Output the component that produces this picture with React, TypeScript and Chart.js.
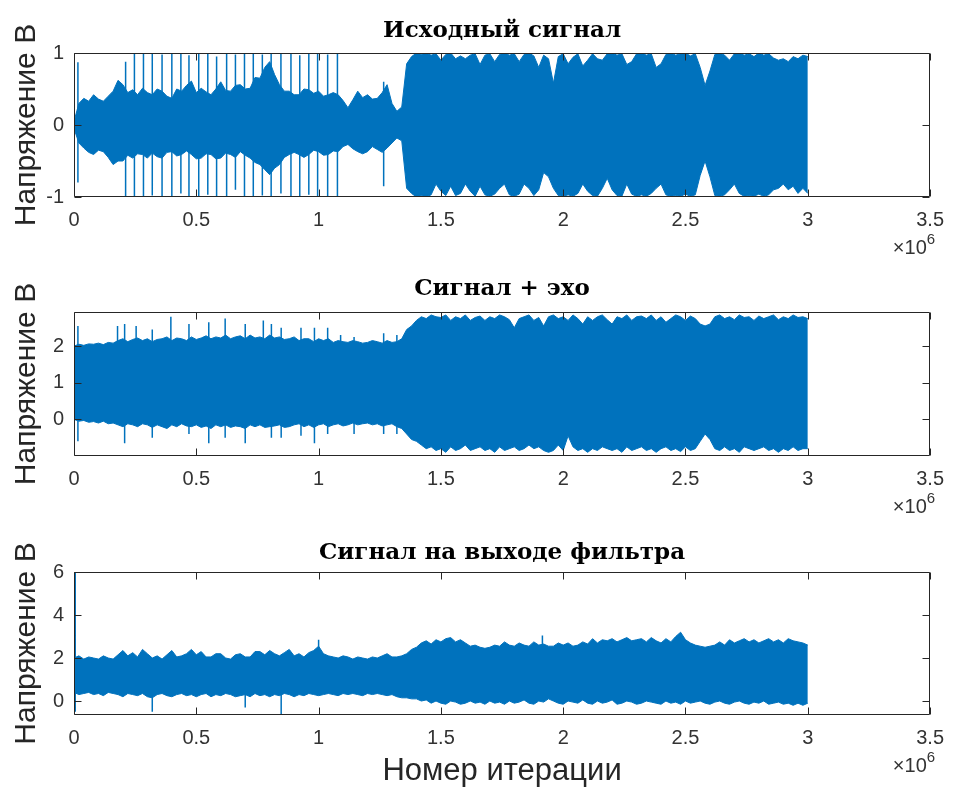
import React, { useEffect, useRef } from "react";
import { Chart, registerables } from "chart.js";

Chart.register(...registerables);

// ---------------- data ----------------
const panelTitles = ["Исходный сигнал", "Сигнал + эхо", "Сигнал на выходе фильтра"];
const yAxisLabel = "Напряжение В";
const xAxisLabel = "Номер итерации";
const xTickValues = [0, 0.5, 1, 1.5, 2, 2.5, 3, 3.5]; // ×10^6
const yTicks1 = [-1, 0, 1];
const yTicks2 = [0, 1, 2];
const yTicks3 = [0, 2, 4, 6];

// sample positions (millions of iterations)
const iterM = [
  0, 0.02, 0.04, 0.06, 0.08, 0.1, 0.12, 0.14, 0.16, 0.18,
  0.2, 0.22, 0.24, 0.26, 0.28, 0.3, 0.32, 0.34, 0.36, 0.38,
  0.4, 0.42, 0.44, 0.46, 0.48, 0.5, 0.52, 0.54, 0.56, 0.58,
  0.6, 0.62, 0.64, 0.66, 0.68, 0.7, 0.72, 0.74, 0.76, 0.78,
  0.8, 0.82, 0.84, 0.86, 0.88, 0.9, 0.92, 0.94, 0.96, 0.98,
  1.0, 1.02, 1.04, 1.06, 1.08, 1.1, 1.12, 1.14, 1.16, 1.18,
  1.2, 1.22, 1.24, 1.26, 1.28, 1.3, 1.32, 1.34, 1.36, 1.38,
  1.4, 1.42, 1.44, 1.46, 1.48, 1.5, 1.52, 1.54, 1.56, 1.58,
  1.6, 1.62, 1.64, 1.66, 1.68, 1.7, 1.72, 1.74, 1.76, 1.78,
  1.8, 1.82, 1.84, 1.86, 1.88, 1.9, 1.92, 1.94, 1.96, 1.98,
  2.0, 2.02, 2.04, 2.06, 2.08, 2.1, 2.12, 2.14, 2.16, 2.18,
  2.2, 2.22, 2.24, 2.26, 2.28, 2.3, 2.32, 2.34, 2.36, 2.38,
  2.4, 2.42, 2.44, 2.46, 2.48, 2.5, 2.52, 2.54, 2.56, 2.58,
  2.6, 2.62, 2.64, 2.66, 2.68, 2.7, 2.72, 2.74, 2.76, 2.78,
  2.8, 2.82, 2.84, 2.86, 2.88, 2.9, 2.92, 2.94, 2.96, 2.98,
  3.0,
];

// Panel 1: original signal envelope
const sig1Upper = [
  0.05, 0.3, 0.37, 0.33, 0.42, 0.36, 0.33, 0.4, 0.47, 0.62,
  0.56, 0.45, 0.49, 0.42, 0.51, 0.45, 0.42, 0.5, 0.47, 0.4,
  0.37, 0.5, 0.47, 0.55, 0.61, 0.45, 0.51, 0.46, 0.42, 0.5,
  0.6, 0.48, 0.47, 0.55, 0.56, 0.5, 0.51, 0.66, 0.65, 0.8,
  0.88, 0.7, 0.56, 0.47, 0.47, 0.42, 0.42, 0.5, 0.49, 0.44,
  0.47, 0.4, 0.42, 0.45, 0.42, 0.34, 0.24, 0.35, 0.47, 0.38,
  0.42, 0.36, 0.37, 0.45, 0.56, 0.3, 0.19, 0.25, 0.85, 0.95,
  1.0, 0.98, 1.0, 0.97, 0.99, 0.9, 0.98, 1.0, 0.92, 0.96,
  0.92, 0.97, 0.99, 0.84, 0.97, 0.99, 0.88, 0.98, 1.0, 0.97,
  0.99, 0.88, 0.98, 1.0, 0.96, 0.8, 0.97, 0.92, 0.58, 0.95,
  0.99, 0.85, 0.94, 0.99, 0.82, 0.9, 0.99, 0.92, 0.9, 0.99,
  1.0, 0.97, 0.99, 0.84, 0.88, 0.99, 1.0, 0.97, 0.99, 0.8,
  0.85, 0.98, 1.0, 0.97, 0.99, 1.0, 0.96, 0.99, 0.8, 0.55,
  0.75, 0.98, 1.0, 0.97, 0.9, 0.99, 1.0, 0.97, 0.99, 0.95,
  1.0, 0.97, 0.99, 0.93, 0.9, 0.92, 0.88, 0.95, 0.92, 0.97,
  0.95,
];
const sig1Lower = [
  -0.05, -0.25, -0.32, -0.38, -0.41, -0.35, -0.37, -0.45, -0.55, -0.5,
  -0.5, -0.42, -0.46, -0.4, -0.41, -0.46, -0.39, -0.44, -0.46, -0.38,
  -0.37, -0.43, -0.41, -0.36, -0.41, -0.47, -0.46, -0.4, -0.41, -0.47,
  -0.46, -0.39, -0.41, -0.45, -0.37, -0.42, -0.46, -0.52, -0.55, -0.62,
  -0.69, -0.6, -0.55, -0.45, -0.41, -0.38, -0.41, -0.45, -0.41, -0.35,
  -0.37, -0.42, -0.41, -0.36, -0.37, -0.3, -0.27, -0.33, -0.37, -0.4,
  -0.37, -0.3, -0.34, -0.38, -0.32, -0.25, -0.18, -0.22, -0.88, -0.95,
  -1.0, -0.98, -1.0, -0.97, -0.82, -0.92, -0.98, -0.85, -0.98, -0.95,
  -0.82, -0.92, -0.99, -0.85, -0.97, -0.99, -0.96, -0.88, -0.82, -0.97,
  -0.99, -0.96, -0.82, -0.88, -0.98, -0.9, -0.66, -0.72, -0.88, -0.98,
  -0.99, -0.97, -0.99, -0.95, -0.82, -0.92, -0.98, -0.99, -0.88, -0.74,
  -0.9, -0.98, -0.99, -0.82, -0.96, -0.99, -0.97, -0.99, -0.95, -0.88,
  -0.82, -0.97, -0.99, -0.98, -0.99, -0.96, -0.99, -0.97, -0.7, -0.5,
  -0.72, -0.98, -0.99, -0.97, -0.9, -0.82, -0.95, -0.99, -0.98, -0.99,
  -0.96, -0.99, -0.97, -0.9, -0.88, -0.82, -0.9, -0.85, -0.95, -0.88,
  -0.95,
];
const sig1SpikeX = [
  0.016, 0.211, 0.247, 0.284, 0.32, 0.36, 0.4, 0.437, 0.47, 0.51, 0.547, 0.583, 0.624, 0.66, 0.697, 0.733, 0.77,
  0.806, 0.846, 0.887, 0.923, 0.96, 0.996, 1.037, 1.077, 1.266,
];
const sig1SpikeHi = [
  0.87, 0.88, 1.0, 1.0, 1.0, 0.98, 1.0, 1.0, 0.97, 1.0, 1.0, 0.95, 1.0, 0.98, 1.0, 1.0, 0.98, 1.0, 1.0, 1.0, 0.97,
  1.0, 1.0, 0.98, 1.0, 0.6,
];
const sig1SpikeLo = [
  -0.8, -1.0, -1.0, -1.0, -0.98, -1.0, -1.0, -0.95, -1.0, -1.0, -0.97, -1.0, -1.0, -0.9, -1.0, -1.0, -0.98, -1.0,
  -0.95, -1.0, -1.0, -0.97, -1.0, -1.0, -1.0, -0.85,
];

// Panel 2: signal + echo
const sig2Upper = [
  2.0, 2.05, 2.02, 2.06, 2.05, 2.08, 2.04, 2.1, 2.08, 2.15,
  2.2, 2.12, 2.18, 2.22, 2.15, 2.2, 2.12, 2.18, 2.2, 2.25,
  2.15, 2.22, 2.2, 2.15, 2.25, 2.18, 2.22, 2.28, 2.2, 2.25,
  2.22, 2.3, 2.2, 2.25, 2.28, 2.2, 2.3, 2.22, 2.25, 2.2,
  2.3, 2.22, 2.25, 2.18, 2.2, 2.25, 2.15, 2.2, 2.2, 2.12,
  2.2, 2.15, 2.2, 2.1, 2.15, 2.12, 2.1, 2.15, 2.12, 2.08,
  2.1, 2.15, 2.12, 2.08, 2.15, 2.1, 2.12, 2.2, 2.45, 2.55,
  2.7, 2.8, 2.75, 2.85, 2.8, 2.78, 2.85, 2.7, 2.8, 2.75,
  2.85, 2.7, 2.78, 2.82, 2.7, 2.8, 2.75, 2.85, 2.8, 2.72,
  2.5, 2.75, 2.8, 2.85, 2.7, 2.78, 2.55, 2.8, 2.85, 2.75,
  2.8, 2.7, 2.85, 2.75, 2.6, 2.8, 2.7, 2.8, 2.85, 2.72,
  2.6, 2.8, 2.75, 2.85, 2.7, 2.8, 2.82, 2.75, 2.85, 2.7,
  2.8, 2.65, 2.75, 2.85, 2.8, 2.7, 2.82, 2.75, 2.6, 2.55,
  2.6, 2.8, 2.85, 2.75, 2.8, 2.72, 2.85, 2.78, 2.8, 2.7,
  2.82, 2.75, 2.8, 2.85, 2.72, 2.8, 2.75, 2.85, 2.78, 2.8,
  2.75,
];
const sig2Lower = [
  0.0, -0.05, -0.03, -0.08, -0.06, -0.1, -0.05, -0.12, -0.1, -0.15,
  -0.2, -0.12, -0.15, -0.2, -0.12, -0.15, -0.22, -0.15, -0.2, -0.25,
  -0.15, -0.2, -0.12, -0.18, -0.2, -0.15, -0.22, -0.18, -0.25, -0.15,
  -0.2, -0.15, -0.22, -0.18, -0.2, -0.25, -0.15, -0.2, -0.15, -0.22,
  -0.2, -0.18, -0.15, -0.22, -0.2, -0.15, -0.12, -0.2, -0.15, -0.22,
  -0.15, -0.12, -0.2, -0.15, -0.12, -0.18, -0.15, -0.1, -0.15, -0.12,
  -0.1, -0.15, -0.12, -0.18, -0.15, -0.12, -0.2, -0.25, -0.4, -0.55,
  -0.6, -0.7, -0.8, -0.75, -0.85, -0.8, -0.9, -0.75, -0.85, -0.8,
  -0.7, -0.85, -0.8, -0.75, -0.85, -0.8, -0.9, -0.75, -0.85, -0.8,
  -0.75, -0.85, -0.8, -0.7, -0.8, -0.75, -0.85, -0.9, -0.85, -0.7,
  -0.85, -0.45, -0.75, -0.85, -0.8, -0.9, -0.8, -0.85, -0.75, -0.8,
  -0.85, -0.8, -0.9, -0.75, -0.85, -0.8, -0.75, -0.85, -0.8, -0.9,
  -0.8, -0.75, -0.85, -0.8, -0.88, -0.75, -0.85, -0.8, -0.6, -0.4,
  -0.55, -0.8, -0.85, -0.75, -0.85, -0.8, -0.9, -0.75, -0.8, -0.85,
  -0.8, -0.75, -0.85, -0.8, -0.9, -0.8, -0.85, -0.75, -0.85, -0.8,
  -0.8,
];
const sig2SpikeX = [
  0.016, 0.178, 0.207, 0.254, 0.32, 0.396, 0.47, 0.551, 0.618, 0.7, 0.774, 0.807, 0.847, 0.928, 0.983, 1.037,
  1.09, 1.145, 1.266, 1.32,
];
const sig2SpikeHi = [
  2.55, 2.55, 2.6, 2.55, 2.45, 2.8, 2.6, 2.65, 2.75, 2.6, 2.7, 2.6, 2.5, 2.5, 2.5, 2.5, 2.3, 2.25, 2.35, 2.3,
];
const sig2SpikeLo = [
  -0.6, 1.0, -0.65, 1.0, -0.5, 1.0, -0.4, -0.65, -0.5, -0.65, 1.0, -0.5, -0.5, -0.45, -0.65, -0.4, 1.0, -0.4, -0.4,
  -0.4,
];

// Panel 3: filter output
const sig3Upper = [
  2.0, 2.1, 1.95, 2.05, 2.0, 1.95, 2.1, 2.0, 1.95, 2.15,
  2.35, 2.1, 2.25, 2.05, 2.4, 2.2, 2.0, 2.1, 1.95, 2.15,
  2.35, 2.05, 2.1, 2.2, 2.4, 2.15, 2.3, 2.05, 2.05, 2.2,
  2.2, 2.0, 1.95, 2.15, 2.2, 2.05, 2.05, 2.3, 2.3, 2.15,
  2.35, 2.2, 2.1, 2.25, 2.4, 2.1, 2.2, 2.05, 2.25, 2.35,
  2.55, 2.2, 2.1, 2.05, 2.0, 2.1, 2.05, 1.95, 2.05, 2.0,
  1.95, 2.05, 2.0, 2.1, 2.2, 2.05, 2.05, 2.1, 2.2, 2.4,
  2.5, 2.7, 2.8, 2.65, 2.85, 2.75, 2.9, 2.95, 2.75, 2.85,
  2.7, 2.55, 2.6, 2.5, 2.45, 2.5, 2.6, 2.55, 2.75, 2.6,
  2.55, 2.7, 2.6, 2.55, 2.75, 2.6, 2.65, 2.55, 2.55, 2.7,
  2.6, 2.7, 2.55, 2.6, 2.75, 2.65, 2.9, 2.7, 2.85, 2.8,
  2.9, 2.75, 2.85, 2.95, 2.8, 2.85, 2.9, 2.75, 2.95, 2.8,
  2.7, 2.9, 2.75, 3.0, 3.2, 2.85, 2.7, 2.6, 2.55, 2.5,
  2.55, 2.6, 2.75, 2.6, 2.85, 2.7, 2.8, 2.9, 2.75, 2.85,
  2.7, 2.8, 2.9, 2.75, 2.85, 2.7, 2.9, 2.8, 2.75, 2.7,
  2.6,
];
const sig3Lower = [
  0.4, 0.3, 0.35, 0.4, 0.3, 0.35, 0.25, 0.4, 0.35, 0.3,
  0.2, 0.35, 0.3, 0.25, 0.35, 0.2, 0.15, 0.3, 0.35, 0.25,
  0.2, 0.3, 0.35, 0.25, 0.3, 0.2, 0.3, 0.35, 0.2, 0.3,
  0.25, 0.35, 0.3, 0.2, 0.25, 0.3, 0.2, 0.35, 0.25, 0.3,
  0.2, 0.3, 0.25, 0.35, 0.3, 0.2, 0.3, 0.25, 0.35, 0.3,
  0.25, 0.3, 0.35, 0.3, 0.25, 0.35, 0.3, 0.35, 0.3, 0.25,
  0.35, 0.3, 0.35, 0.3, 0.25, 0.3, 0.2, 0.15, 0.15, 0.1,
  0.1, 0.0, 0.05, -0.1, 0.0, -0.1, -0.15, 0.0, -0.05, -0.15,
  -0.1, 0.0, -0.1, -0.05, -0.15, 0.0, -0.1, -0.05, -0.15, 0.0,
  -0.1, -0.05, 0.05, -0.1, -0.15, 0.0, -0.05, 0.1, 0.0, -0.1,
  -0.15, 0.0, -0.05, -0.1, 0.05, -0.1, -0.15, 0.0, -0.1, -0.05,
  0.05, -0.15, -0.1, 0.0, -0.05, -0.15, -0.1, 0.0, -0.05, -0.1,
  -0.15, 0.0, -0.1, -0.05, -0.15, 0.0, -0.1, -0.05, 0.0, -0.1,
  -0.15, -0.05, 0.0, -0.1, -0.15, -0.05, 0.0, -0.1, -0.15, -0.05,
  -0.1, 0.0, -0.15, -0.1, -0.05, -0.15, -0.1, -0.2, -0.1, -0.2,
  -0.1,
];
const sig3SpikeX = [0.005, 0.32, 0.7, 0.847, 1.0, 1.915];
const sig3SpikeHi = [6.0, 1.2, 1.2, 1.2, 2.85, 3.05];
const sig3SpikeLo = [-0.5, -0.5, -0.3, -0.65, 1.2, 1.2];

// ---------------- styling / layout ----------------
const BLUE = "#0072BD";
const AXIS = "#262626";
const TICK_COLOR = "#333333";
const SANS = "'Liberation Sans', Arial, sans-serif";
const SERIF = "'DejaVu Serif', 'Liberation Serif', serif";
const PAGE_W = 955;
const PLOT_LEFT = 74;
const PLOT_RIGHT = 938;

type Panel = {
  title: string;
  top: number;
  height: number;
  plotTop: number;
  plotBottom: number;
  titleCenter: number;
  yMin: number;
  yMax: number;
  yTicks: number[];
  upper: number[];
  lower: number[];
  spikeX: number[];
  spikeHi: number[];
  spikeLo: number[];
  xTitle: boolean;
};

const panels: Panel[] = [
  {
    title: panelTitles[0], top: 0, height: 262, plotTop: 53, plotBottom: 197, titleCenter: 31,
    yMin: -1, yMax: 1, yTicks: yTicks1, upper: sig1Upper, lower: sig1Lower,
    spikeX: sig1SpikeX, spikeHi: sig1SpikeHi, spikeLo: sig1SpikeLo, xTitle: false,
  },
  {
    title: panelTitles[1], top: 262, height: 258, plotTop: 50, plotBottom: 194, titleCenter: 27,
    yMin: -1.0, yMax: 2.93, yTicks: yTicks2, upper: sig2Upper, lower: sig2Lower,
    spikeX: sig2SpikeX, spikeHi: sig2SpikeHi, spikeLo: sig2SpikeLo, xTitle: false,
  },
  {
    title: panelTitles[2], top: 520, height: 267, plotTop: 52, plotBottom: 195, titleCenter: 33,
    yMin: -0.65, yMax: 6, yTicks: yTicks3, upper: sig3Upper, lower: sig3Lower,
    spikeX: sig3SpikeX, spikeHi: sig3SpikeHi, spikeLo: sig3SpikeLo, xTitle: true,
  },
];

const matlabBox = {
  id: "matlabBox",
  afterDatasetsDraw(chart: any) {
    const { ctx, chartArea: a, scales } = chart;
    const L = Math.round(a.left) + 0.5;
    const R = Math.round(a.right) - 0.5;
    const T = Math.round(a.top) + 0.5;
    const B = Math.round(a.bottom) - 0.5;
    ctx.save();
    ctx.strokeStyle = AXIS;
    ctx.lineWidth = 1;
    ctx.beginPath();
    ctx.rect(L, T, R - L, B - T);
    const tl = 7;
    scales.x.ticks.forEach((t: any) => {
      const px = Math.round(scales.x.getPixelForValue(t.value)) + 0.5;
      ctx.moveTo(px, B);
      ctx.lineTo(px, B - tl);
      ctx.moveTo(px, T);
      ctx.lineTo(px, T + tl);
    });
    scales.y.ticks.forEach((t: any) => {
      const py = Math.round(scales.y.getPixelForValue(t.value)) + 0.5;
      ctx.moveTo(L, py);
      ctx.lineTo(L + tl, py);
      ctx.moveTo(R, py);
      ctx.lineTo(R - tl, py);
    });
    ctx.stroke();
    // ×10^6 exponent label
    ctx.fillStyle = TICK_COLOR;
    ctx.textAlign = "right";
    ctx.textBaseline = "alphabetic";
    const baseY = a.bottom + 57;
    ctx.font = `15px ${SANS}`;
    const supW = ctx.measureText("6").width;
    ctx.fillText("6", a.right + 5, baseY - 10);
    ctx.font = `20px ${SANS}`;
    ctx.fillText("×10", a.right + 5 - supW, baseY);
    ctx.restore();
  },
};

function PanelChart({ p }: { p: Panel }) {
  const ref = useRef<HTMLCanvasElement | null>(null);
  useEffect(() => {
    if (!ref.current) return;
    const titleFont = 23;
    const titleLH = titleFont * 1.2;
    const padTop = p.titleCenter - titleLH / 2;
    const padBottom = p.plotTop - padTop - titleLH;
    const envUpper = iterM.map((x, i) => ({ x, y: p.upper[i] }));
    const envLower = iterM.map((x, i) => ({ x, y: p.lower[i] }));
    const spikes: any[] = [];
    p.spikeX.forEach((x, i) => {
      spikes.push({ x, y: p.spikeLo[i] }, { x, y: p.spikeHi[i] }, { x, y: null });
    });
    const chart = new Chart(ref.current, {
      type: "line",
      data: {
        datasets: [
          {
            data: envUpper, borderColor: BLUE, backgroundColor: BLUE, borderWidth: 1,
            pointRadius: 0, fill: "+1", tension: 0,
          },
          {
            data: envLower, borderColor: BLUE, backgroundColor: BLUE, borderWidth: 1,
            pointRadius: 0, fill: false, tension: 0,
          },
          {
            data: spikes, borderColor: BLUE, borderWidth: 1.5, pointRadius: 0, fill: false,
            spanGaps: false, tension: 0,
          },
        ],
      } as any,
      options: {
        responsive: false,
        animation: false,
        devicePixelRatio: 1,
        events: [],
        layout: { padding: { left: 0, right: PAGE_W - PLOT_RIGHT, top: 0, bottom: 0 } },
        plugins: {
          legend: { display: false },
          tooltip: { enabled: false },
          title: {
            display: true,
            text: p.title,
            fullSize: false,
            color: "#000",
            font: { family: SERIF, size: titleFont, weight: "bold", lineHeight: 1.2 },
            padding: { top: padTop, bottom: padBottom },
          },
        },
        scales: {
          x: {
            type: "linear",
            min: 0,
            max: 3.5,
            afterBuildTicks: (s: any) => {
              s.ticks = xTickValues.map((v) => ({ value: v }));
            },
            afterFit: (s: any) => {
              s.height = p.height - p.plotBottom;
            },
            grid: { display: false, drawTicks: false },
            border: { display: false },
            ticks: {
              padding: 11,
              color: TICK_COLOR,
              font: { family: SANS, size: 20 },
              maxRotation: 0,
              autoSkip: false,
              callback: (v: any) => String(v),
            },
            title: {
              display: p.xTitle,
              text: xAxisLabel,
              color: AXIS,
              font: { family: SANS, size: 31, lineHeight: 1 },
              padding: { top: 0, bottom: 0 },
            },
          },
          y: {
            type: "linear",
            min: p.yMin,
            max: p.yMax,
            afterBuildTicks: (s: any) => {
              s.ticks = p.yTicks.map((v) => ({ value: v }));
            },
            afterFit: (s: any) => {
              s.width = PLOT_LEFT;
            },
            grid: { display: false, drawTicks: false },
            border: { display: false },
            ticks: {
              padding: 10,
              color: TICK_COLOR,
              font: { family: SANS, size: 20 },
              callback: (v: any) => String(v),
            },
            title: {
              display: true,
              text: yAxisLabel,
              color: AXIS,
              font: { family: SANS, size: 30, lineHeight: 1 },
              padding: { top: 12, bottom: 0 },
            },
          },
        },
      } as any,
      plugins: [matlabBox],
    });
    return () => chart.destroy();
  }, [p]);
  return (
    <div style={{ position: "absolute", left: 0, top: p.top, width: PAGE_W, height: p.height }}>
      <canvas ref={ref} width={PAGE_W} height={p.height} style={{ display: "block" }} />
    </div>
  );
}

export default function App() {
  return (
    <div
      style={{
        position: "absolute",
        left: 0,
        top: 0,
        width: PAGE_W,
        height: 787,
        background: "#ffffff",
        overflow: "hidden",
      }}
    >
      {panels.map((p, i) => (
        <PanelChart key={i} p={p} />
      ))}
    </div>
  );
}
